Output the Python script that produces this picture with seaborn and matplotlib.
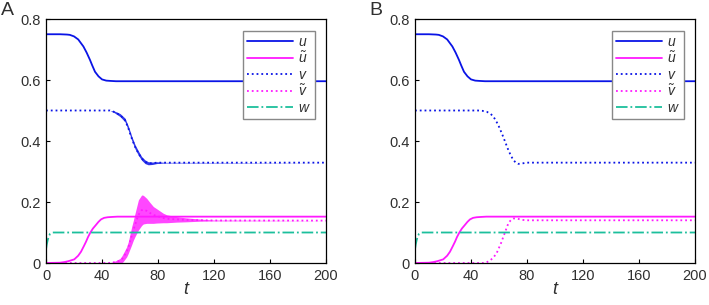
import numpy as np
import pandas as pd
import matplotlib
matplotlib.use("Agg")
import matplotlib.pyplot as plt
import seaborn as sns

# ---------------- data ----------------
# u (same in both panels)
t_u = [0, 10, 15, 17, 20, 23, 26.7, 29, 31.4, 33, 35, 37.5, 40, 43, 46, 50, 200]
u_vals = [0.750, 0.750, 0.749, 0.748, 0.743, 0.733, 0.710, 0.690, 0.666, 0.648,
          0.627, 0.612, 0.602, 0.598, 0.597, 0.596, 0.596]

# u tilde (same in both panels)
t_ut = [0, 10, 13, 16, 20.2, 23, 25, 27, 28.6, 30, 31.7, 33.5, 35.7, 37.5, 39.3,
        41.5, 44, 47, 51, 200]
ut_vals = [0.0, 0.001, 0.003, 0.006, 0.012, 0.024, 0.037, 0.055, 0.070, 0.085,
           0.100, 0.113, 0.125, 0.135, 0.143, 0.148, 0.150, 0.151, 0.152, 0.152]

# w (same in both panels)
t_w = [0, 0.5, 1.2, 2, 3, 4.8, 200]
w_vals = [0.045, 0.060, 0.075, 0.088, 0.096, 0.100, 0.100]

# Panel A: v (centre of oscillating band and half width)
t_vA = [0, 45.7, 49, 52.9, 56.4, 58.8, 61.2, 63.6, 66, 68.3, 70.7, 73, 76, 79, 85, 200]
vA_mid = [0.5, 0.5, 0.495, 0.485, 0.469, 0.442, 0.409, 0.381, 0.360, 0.343, 0.332,
          0.327, 0.327, 0.329, 0.329, 0.329]
vA_half = [0, 0, 0.003, 0.005, 0.006, 0.007, 0.007, 0.007, 0.007, 0.006, 0.006,
           0.005, 0.004, 0.003, 0.001, 0]

# Panel A: v tilde (oscillating band envelope)
t_vtA = [0, 45, 48, 50, 52.9, 54, 55, 57.6, 58.8, 61.2, 62.4, 63.6, 66, 68.3, 69.5,
         71.9, 74.3, 76.7, 79, 83.8, 86.2, 93.3, 100, 110, 120, 200]
vtA_upper = [0, 0, 0.004, 0.008, 0.015, 0.022, 0.030, 0.053, 0.070, 0.119, 0.140,
             0.163, 0.207, 0.223, 0.222, 0.212, 0.198, 0.185, 0.178, 0.163, 0.158,
             0.152, 0.148, 0.144, 0.141, 0.139]
vtA_lower = [0, 0, 0, 0, 0, 0, 0.004, 0.020, 0.032, 0.060, 0.075, 0.087, 0.108,
             0.123, 0.128, 0.130, 0.130, 0.130, 0.131, 0.132, 0.132, 0.134, 0.135,
             0.137, 0.138, 0.139]

# Panel B: v and v tilde
t_vB = [0, 45, 48, 51.2, 54, 56, 58, 59.5, 61, 63, 65, 66.7, 68.5, 70.2, 72, 73.8,
        76, 79.8, 200]
vB_vals = [0.5, 0.5, 0.499, 0.496, 0.489, 0.480, 0.465, 0.452, 0.436, 0.414, 0.390,
           0.370, 0.352, 0.338, 0.329, 0.325, 0.326, 0.329, 0.329]
t_vtB = [0, 48.8, 51, 53.6, 56, 58.3, 60, 61.9, 63, 64.3, 65.5, 66.7, 68, 69, 70.5,
         72.6, 75, 77.4, 80, 200]
vtB_vals = [0, 0, 0.002, 0.008, 0.018, 0.032, 0.050, 0.070, 0.085, 0.100, 0.116,
            0.130, 0.138, 0.143, 0.146, 0.146, 0.143, 0.141, 0.140, 0.140]

x_ticks = [0, 40, 80, 120, 160, 200]
y_ticks = [0, 0.2, 0.4, 0.6, 0.8]
y_tick_labels = ["0", "0.2", "0.4", "0.6", "0.8"]
labels = [r"$u$", r"$\tilde{u}$", r"$v$", r"$\tilde{v}$", r"$w$"]
panel_letters = ["A", "B"]

# ---------------- style ----------------
sns.set_theme(style="white")
plt.rcParams["font.family"] = ["Liberation Sans", "DejaVu Sans"]
plt.rcParams["mathtext.fontset"] = "custom"
plt.rcParams["mathtext.it"] = "Liberation Sans:italic"
plt.rcParams["mathtext.rm"] = "Liberation Sans"

BLUE = "#0a14e6"
MAG = "#ff19ff"
TEAL = "#1cbf9c"
LW = 1.3
TXT = "#303030"

fig = plt.figure(figsize=(7.09, 3.05), dpi=100)
axA = fig.add_axes([0.0649, 0.1377, 0.3949, 0.800])
axB = fig.add_axes([0.5853, 0.1377, 0.3950, 0.800])


def df(t, y):
    return pd.DataFrame({"t": t, "y": y})


def finish(ax, letter_x, letter):
    ax.set_xlim(0, 200)
    ax.set_ylim(0, 0.8)
    ax.set_xticks(x_ticks)
    ax.set_xticklabels([str(v) for v in x_ticks])
    ax.set_yticks(y_ticks)
    ax.set_yticklabels(y_tick_labels)
    ax.tick_params(direction="in", length=3, width=0.8, labelsize=10.5, pad=4,
                   color="black", labelcolor=TXT, left=True, bottom=True)
    for s in ax.spines.values():
        s.set_color("black")
        s.set_linewidth(0.9)
        s.set_visible(True)
    ax.set_xlabel("t", fontsize=13, style="italic", labelpad=-1, color=TXT)
    ax.set_ylabel("")
    handles = ax.get_lines()[:5]
    leg = ax.legend(handles, labels, loc="upper right",
                    bbox_to_anchor=(0.962, 0.952), fontsize=10,
                    handlelength=3.3, handletextpad=0.4, labelspacing=0.12,
                    borderpad=0.3, borderaxespad=0, frameon=True, fancybox=False,
                    edgecolor="#888888", framealpha=1)
    leg.get_frame().set_linewidth(1.0)
    for txt in leg.get_texts():
        txt.set_color(TXT)
    fig.text(letter_x, 0.995, letter, fontsize=14, va="top", ha="left", color=TXT)


# ---- Panel A ----
sns.lineplot(data=df(t_u, u_vals), x="t", y="y", ax=axA, color=BLUE, lw=LW)
sns.lineplot(data=df(t_ut, ut_vals), x="t", y="y", ax=axA, color=MAG, lw=LW)
sns.lineplot(data=df(t_vA, vA_mid), x="t", y="y", ax=axA, color=BLUE, lw=LW,
             linestyle=":")
vtA_mid = [(a + b) / 2 for a, b in zip(vtA_upper, vtA_lower)]
sns.lineplot(data=df(t_vtA, vtA_mid), x="t", y="y", ax=axA, color=MAG, lw=LW,
             linestyle=":")
sns.lineplot(data=df(t_w, w_vals), x="t", y="y", ax=axA, color=TEAL, lw=LW,
             linestyle="-.")
vA_lo = [m - h for m, h in zip(vA_mid, vA_half)]
vA_hi = [m + h for m, h in zip(vA_mid, vA_half)]
axA.fill_between(t_vA, vA_lo, vA_hi, color=BLUE, alpha=0.85, lw=0)
axA.fill_between(t_vtA, vtA_lower, vtA_upper, color=MAG, alpha=0.8, lw=0)
finish(axA, 0.002, panel_letters[0])

# ---- Panel B ----
sns.lineplot(data=df(t_u, u_vals), x="t", y="y", ax=axB, color=BLUE, lw=LW)
sns.lineplot(data=df(t_ut, ut_vals), x="t", y="y", ax=axB, color=MAG, lw=LW)
sns.lineplot(data=df(t_vB, vB_vals), x="t", y="y", ax=axB, color=BLUE, lw=LW,
             linestyle=":")
sns.lineplot(data=df(t_vtB, vtB_vals), x="t", y="y", ax=axB, color=MAG, lw=LW,
             linestyle=":")
sns.lineplot(data=df(t_w, w_vals), x="t", y="y", ax=axB, color=TEAL, lw=LW,
             linestyle="-.")
finish(axB, 0.521, panel_letters[1])

fig.savefig("out.png", dpi=100)
